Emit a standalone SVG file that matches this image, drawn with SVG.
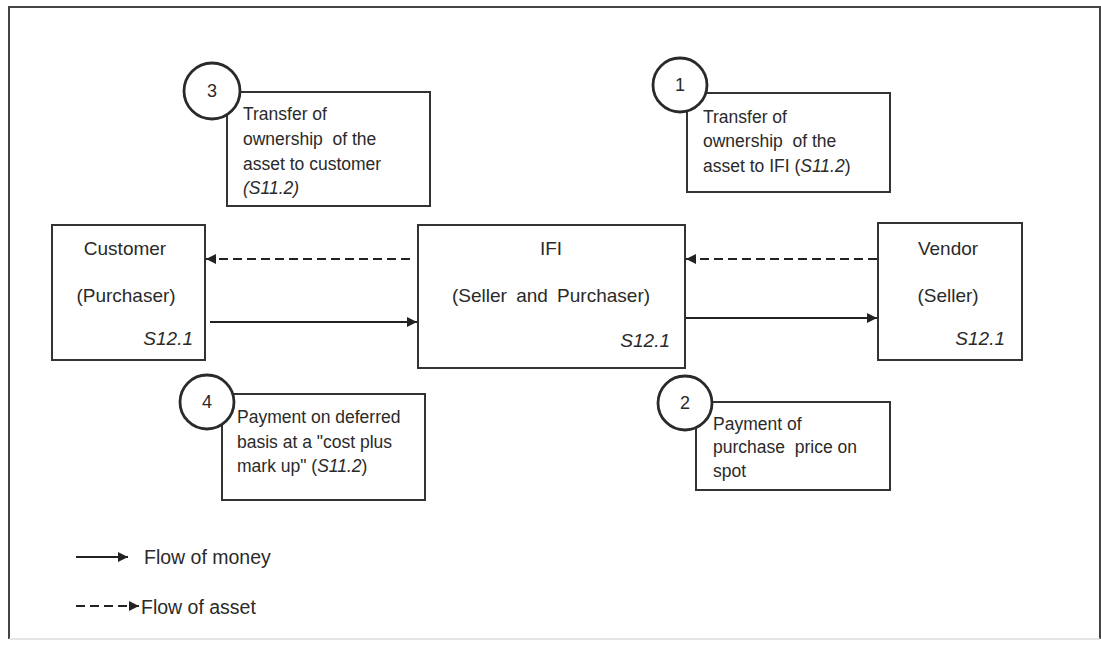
<svg xmlns="http://www.w3.org/2000/svg" width="1101" height="647" viewBox="0 0 1101 647">
<style>
text{font-family:"Liberation Sans",Arial,sans-serif;fill:#2a2a2a}
.box{fill:#fff;stroke:#333;stroke-width:2}
.circ{fill:#fff;stroke:#2a2a2a;stroke-width:2.8}
.num{font-size:18px;text-anchor:middle}
.call{font-size:17.5px}
.node{font-size:19px}
.mid{text-anchor:middle}
.end{text-anchor:end}
.it{font-style:italic}
.solid{stroke:#222;stroke-width:2.2;fill:none}
.dash{stroke:#222;stroke-width:2.2;fill:none;stroke-dasharray:9 5}
.leg{font-size:19.5px}
</style>
<defs>
<marker id="ah" viewBox="0 0 10 10" refX="10" refY="5" markerWidth="12" markerHeight="10" markerUnits="userSpaceOnUse" orient="auto">
<path d="M0,0 L10,5 L0,10 z" fill="#222"/>
</marker>
</defs>
<rect x="0" y="0" width="1101" height="647" fill="#fff"/>
<path d="M9,639 L9,7 L1100,7 L1100,639" fill="none" stroke="#444" stroke-width="2"/>
<path d="M9,639 L1100,639" fill="none" stroke="#ddd" stroke-width="1.5"/>

<g id="node-customer">
<rect class="box" x="52" y="225" width="153" height="135"/>
<text class="node mid" x="125" y="255">Customer</text>
<text class="node mid" x="126" y="302">(Purchaser)</text>
<text class="node end it" x="193" y="345">S12.1</text>
</g>
<g id="node-ifi">
<rect class="box" x="418" y="225" width="267" height="143"/>
<text class="node mid" x="551" y="255">IFI</text>
<text class="node mid" x="551" y="302" word-spacing="4">(Seller and Purchaser)</text>
<text class="node end it" x="670" y="347">S12.1</text>
</g>
<g id="node-vendor">
<rect class="box" x="878" y="223" width="144" height="137"/>
<text class="node mid" x="948" y="255">Vendor</text>
<text class="node mid" x="948" y="302">(Seller)</text>
<text class="node end it" x="1005" y="345">S12.1</text>
</g>

<g id="callout-3">
<rect class="box" x="227" y="92" width="203" height="114"/>
<circle class="circ" cx="212" cy="91" r="28"/>
<text class="num" x="212" y="97">3</text>
<text class="call" x="243" y="120">Transfer of</text>
<text class="call" x="243" y="145" xml:space="preserve">ownership  of the</text>
<text class="call" x="243" y="170">asset to customer</text>
<text class="call it" x="243" y="194">(S11.2)</text>
</g>
<g id="callout-1">
<rect class="box" x="687" y="93" width="203" height="99"/>
<circle class="circ" cx="680" cy="85" r="27"/>
<text class="num" x="680" y="91">1</text>
<text class="call" x="703" y="123">Transfer of</text>
<text class="call" x="703" y="147" xml:space="preserve">ownership  of the</text>
<text class="call" x="703" y="172">asset to IFI (<tspan class="it">S11.2</tspan>)</text>
</g>
<g id="callout-4">
<rect class="box" x="222" y="394" width="203" height="106"/>
<circle class="circ" cx="207" cy="402" r="27"/>
<text class="num" x="207" y="408">4</text>
<text class="call" x="237" y="423">Payment on deferred</text>
<text class="call" x="237" y="448">basis at a "cost plus</text>
<text class="call" x="237" y="472">mark up" (<tspan class="it">S11.2</tspan>)</text>
</g>
<g id="callout-2">
<rect class="box" x="696" y="402" width="194" height="88"/>
<circle class="circ" cx="685" cy="403" r="27"/>
<text class="num" x="685" y="409">2</text>
<text class="call" x="713" y="430">Payment of</text>
<text class="call" x="713" y="453" xml:space="preserve">purchase  price on</text>
<text class="call" x="713" y="477">spot</text>
</g>

<g id="connectors">
<line class="dash" x1="410" y1="259" x2="206" y2="259" marker-end="url(#ah)"/>
<line class="solid" x1="210" y1="322" x2="417" y2="322" marker-end="url(#ah)"/>
<line class="dash" x1="877" y1="259" x2="686" y2="259" marker-end="url(#ah)"/>
<line class="solid" x1="686" y1="318" x2="877" y2="318" marker-end="url(#ah)"/>
</g>

<g id="legend">
<line class="solid" x1="76" y1="557" x2="128" y2="557" marker-end="url(#ah)"/>
<text class="leg" x="144" y="564">Flow of money</text>
<line class="dash" x1="76" y1="606" x2="139" y2="606" marker-end="url(#ah)"/>
<text class="leg" x="141" y="614">Flow of asset</text>
</g>
</svg>
